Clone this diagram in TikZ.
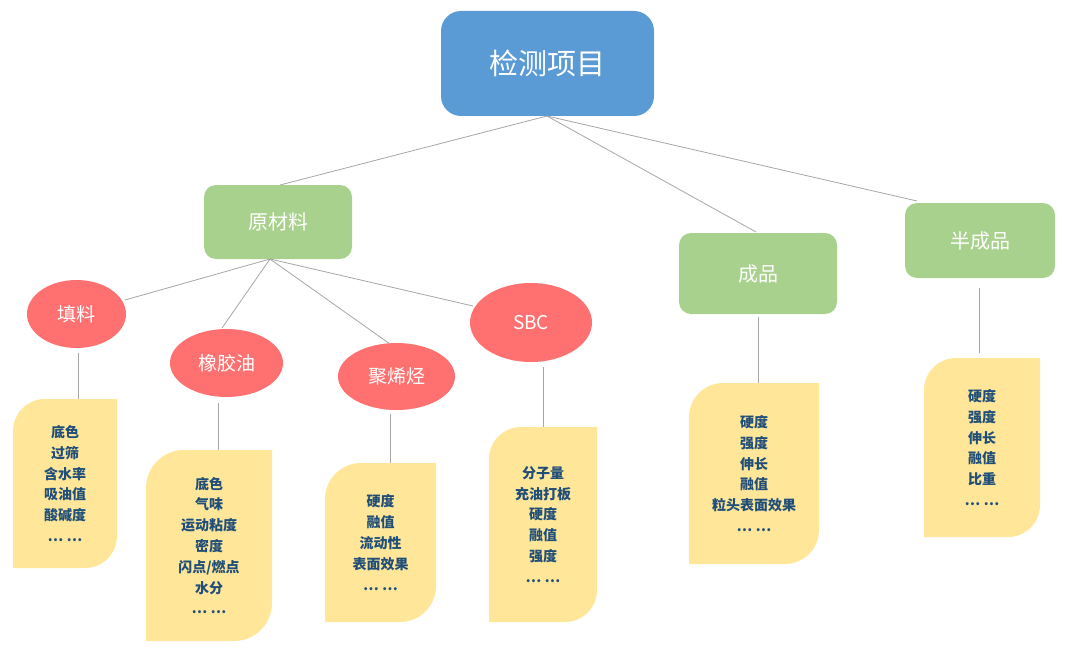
\documentclass[tikz,border=0pt]{standalone}
\usepackage{fontspec}
\setmainfont{Noto Sans CJK SC}
\usetikzlibrary{shapes.geometric}
\definecolor{rootC}{RGB}{91,155,213}
\definecolor{grnC}{RGB}{169,209,142}
\definecolor{redC}{RGB}{255,112,112}
\definecolor{yelC}{RGB}{255,230,153}
\definecolor{txtC}{RGB}{31,78,121}
\definecolor{lineC}{RGB}{166,166,166}
\newcommand\yshape[5]{%
  \fill[yelC] (#1,{#2+#5}) arc[start angle=180,end angle=270,radius=#5]
    -- (#3,#2) -- (#3,{#4-#5}) arc[start angle=0,end angle=90,radius=#5]
    -- (#1,#4) -- cycle;}
\begin{document}
\begin{tikzpicture}[x=1pt,y=-1pt,
  conn/.style={draw=lineC,line width=0.8pt},
  rootbox/.style={fill=rootC,rounded corners=20pt,inner sep=0pt,text=white,
    font=\fontsize{29}{34}\selectfont},
  catbox/.style={fill=grnC,rounded corners=12pt,inner sep=0pt,text=white,
    font=\fontsize{20}{24}\selectfont},
  matell/.style={ellipse,fill=redC,inner sep=0pt,text=white,
    font=\fontsize{19}{23}\selectfont},
  items/.style={align=center,text=txtC,inner sep=0pt,
    font=\bfseries\fontsize{14}{20.8}\selectfont}]
\useasboundingbox (0,0) rectangle (1075,666);

% top level
\node[rootbox,minimum width=213pt,minimum height=105pt] (root) at (547.5,63.5) {检测项目};
\node[catbox,minimum width=148pt,minimum height=74pt] (raw) at (278,222) {原材料};
\node[catbox,minimum width=158pt,minimum height=81pt] (fin) at (758,273.5) {成品};
\node[catbox,minimum width=150pt,minimum height=75pt] (semi) at (980,240.5) {半成品};

% materials
\node[matell,minimum width=99pt,minimum height=68pt] (fill) at (76.5,314) {填料};
\node[matell,minimum width=113pt,minimum height=68pt] (oil) at (226.5,363) {橡胶油};
\node[matell,minimum width=117pt,minimum height=67pt] (poly) at (396.5,376.5) {聚烯烃};
\node[matell,minimum width=122pt,minimum height=79pt] (sbc) at (531,322.5) {SBC};

% connectors from root
\coordinate (rootB) at (547,116);
\coordinate (rawT) at (280,185);
\coordinate (finT) at (756,232);
\coordinate (semiT) at (917,201);
\draw[conn] (rootB) -- (rawT);
\draw[conn] (rootB) -- (finT);
\draw[conn] (rootB) -- (semiT);

% connectors from raw materials
\coordinate (rawB) at (270,259);
\coordinate (fillE) at (125,300);
\coordinate (oilE) at (222,328);
\coordinate (polyE) at (390,344);
\coordinate (sbcE) at (473,306);
\draw[conn] (rawB) -- (fillE);
\draw[conn] (rawB) -- (oilE);
\draw[conn] (rawB) -- (polyE);
\draw[conn] (rawB) -- (sbcE);

% yellow boxes
\yshape{13}{399}{117}{568}{32}
\yshape{146}{450}{272}{641}{38}
\yshape{325}{463}{436}{622}{36}
\yshape{489}{427}{597}{622}{32}
\yshape{689}{383}{819}{564}{34}
\yshape{924}{358}{1040}{537}{32}

\node[items] (fillL) at (65,483.5) {底色\\过筛\\含水率\\吸油值\\酸碱度\\… …};
\node[items] (oilL) at (209,545.5) {底色\\气味\\运动粘度\\密度\\闪点/燃点\\水分\\… …};
\node[items] (polyL) at (380.5,542.5) {硬度\\融值\\流动性\\表面效果\\… …};
\node[items] (sbcL) at (543,524.5) {分子量\\充油打板\\硬度\\融值\\强度\\… …};
\node[items] (finL) at (754,473.5) {硬度\\强度\\伸长\\融值\\粒头表面效果\\… …};
\node[items] (semiL) at (982,447.5) {硬度\\强度\\伸长\\融值\\比重\\… …};

% vertical connectors
\coordinate (f1) at (78,353);   \coordinate (f2) at (78,399);
\coordinate (o1) at (218,403);  \coordinate (o2) at (218,450);
\coordinate (p1) at (390,414);  \coordinate (p2) at (390,463);
\coordinate (s1) at (543,367);  \coordinate (s2) at (543,427);
\coordinate (c1) at (758,317);  \coordinate (c2) at (758,383);
\coordinate (h1) at (979,288);  \coordinate (h2) at (979,353);
\draw[conn] (f1) -- (f2);
\draw[conn] (o1) -- (o2);
\draw[conn] (p1) -- (p2);
\draw[conn] (s1) -- (s2);
\draw[conn] (c1) -- (c2);
\draw[conn] (h1) -- (h2);
\end{tikzpicture}
\end{document}
